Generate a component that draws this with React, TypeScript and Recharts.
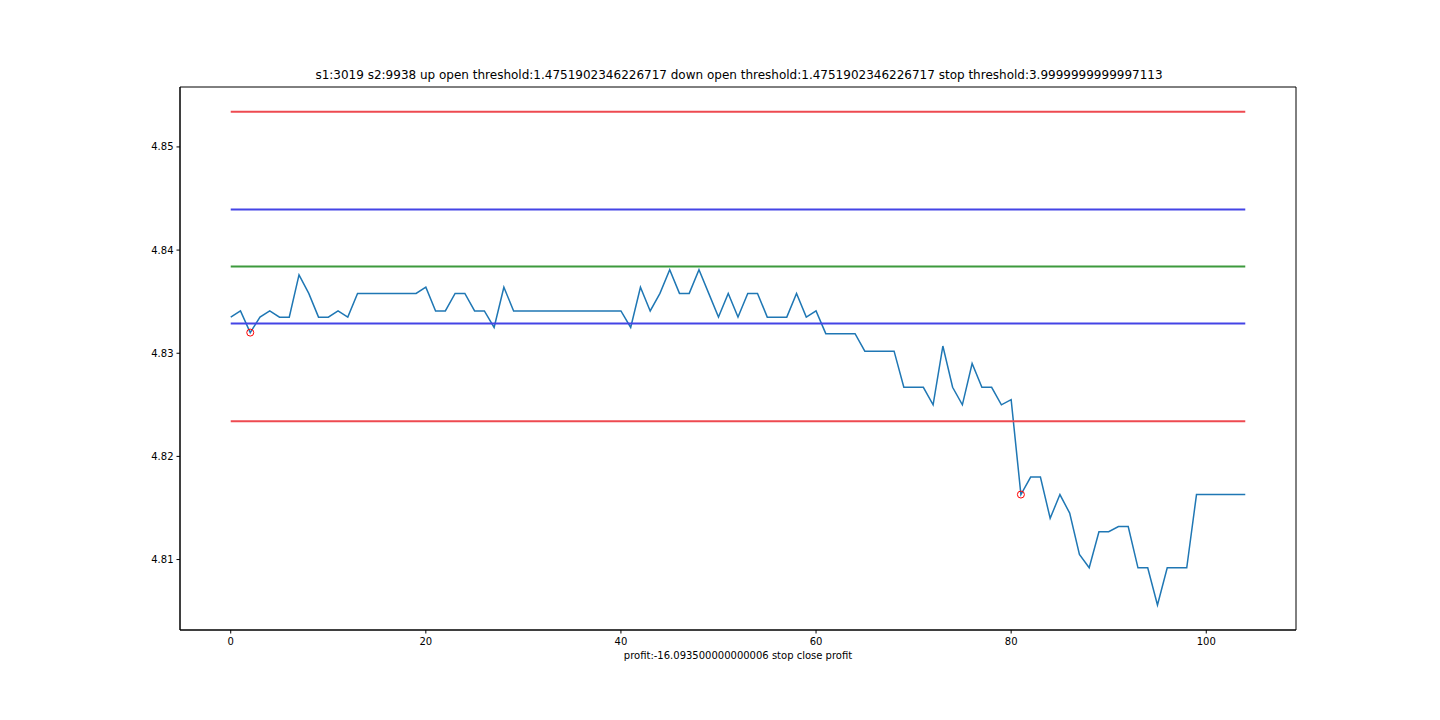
import { ComposedChart, Line, XAxis, YAxis, ReferenceArea } from "recharts";

const price = [
  4.8335, 4.8341, 4.832, 4.8335, 4.8341, 4.8335, 4.8335, 4.8376, 4.8358, 4.8335,
  4.8335, 4.8341, 4.8335, 4.8358, 4.8358, 4.8358, 4.8358, 4.8358, 4.8358, 4.8358,
  4.8364, 4.8341, 4.8341, 4.8358, 4.8358, 4.8341, 4.8341, 4.8325, 4.8364, 4.8341,
  4.8341, 4.8341, 4.8341, 4.8341, 4.8341, 4.8341, 4.8341, 4.8341, 4.8341, 4.8341,
  4.8341, 4.8325, 4.8364, 4.8341, 4.8358, 4.8381, 4.8358, 4.8358, 4.8381, 4.8358,
  4.8335, 4.8358, 4.8335, 4.8358, 4.8358, 4.8335, 4.8335, 4.8335, 4.8358, 4.8335,
  4.8341, 4.8319, 4.8319, 4.8319, 4.8319, 4.8302, 4.8302, 4.8302, 4.8302, 4.8267,
  4.8267, 4.8267, 4.825, 4.8307, 4.8267, 4.825, 4.829, 4.8267, 4.8267, 4.825,
  4.8255, 4.8163, 4.818, 4.818, 4.814, 4.8163, 4.8145, 4.8105, 4.8092, 4.8127,
  4.8127, 4.8132, 4.8132, 4.8092, 4.8092, 4.8056, 4.8092, 4.8092, 4.8092, 4.8163,
  4.8163, 4.8163, 4.8163, 4.8163, 4.8163,
];

// indices where a trade was opened / stopped
const signals = [2, 81];

// threshold levels: up stop, up open, mean, down open, down stop
const upStop = 4.85341;
const upOpen = 4.84393;
const mean = 4.83841;
const downOpen = 4.83289;
const downStop = 4.82341;

const xTicks = [0, 20, 40, 60, 80, 100];
const yTicks = [4.81, 4.82, 4.83, 4.84, 4.85];

const title =
  "s1:3019 s2:9938 up open threshold:1.4751902346226717 down open threshold:1.4751902346226717 stop threshold:3.9999999999997113";
const xLabel = "profit:-16.093500000000006 stop close profit";

const rows = price.map((p, i) => ({
  i,
  price: p,
  signal: signals.includes(i) ? p : null,
  upStop,
  upOpen,
  mean,
  downOpen,
  downStop,
}));

const xDomain = [-5.2, 109.2];
const yDomain = [4.80317, 4.85581];

const font = "'DejaVu Sans', sans-serif";
const tickStyle = { fill: "#000", fontSize: 10, fontFamily: font };

const SignalDot = (props: any) => {
  const { cx, cy, payload } = props;
  if (payload.signal == null || cx == null || cy == null) return null;
  return <circle key={`s-${payload.i}`} cx={cx} cy={cy} r={3.5} fill="none" stroke="#ff0000" strokeWidth={1} />;
};

export default function App() {
  return (
    <div style={{ position: "absolute", left: 0, top: 0, width: 1440, height: 720, background: "#fff" }}>
      <div
        style={{
          position: "absolute",
          left: 181,
          width: 1116,
          top: 68,
          textAlign: "center",
          fontFamily: font,
          fontSize: 12,
          color: "#000",
          whiteSpace: "nowrap",
        }}
      >
        {title}
      </div>
      <ComposedChart
        width={1440}
        height={720}
        data={rows}
        margin={{ top: 87, right: 144, left: 120, bottom: 60 }}
      >
        <XAxis
          dataKey="i"
          type="number"
          domain={xDomain}
          ticks={xTicks}
          allowDataOverflow
          height={30}
          tickSize={3.5}
          tickMargin={4}
          tick={tickStyle}
          stroke="#000"
        />
        <YAxis
          type="number"
          domain={yDomain}
          ticks={yTicks}
          allowDataOverflow
          width={60}
          tickSize={3.5}
          tickMargin={3}
          tick={tickStyle}
          tickFormatter={(v: number) => v.toFixed(2)}
          stroke="#000"
        />
        <ReferenceArea
          x1={xDomain[0]}
          x2={xDomain[1]}
          y1={yDomain[0]}
          y2={yDomain[1]}
          fill="none"
          stroke="#000"
          strokeWidth={1}
        />
        <Line dataKey="price" stroke="#1f77b4" strokeWidth={1.5} dot={false} isAnimationActive={false} />
        <Line dataKey="upStop" stroke="#ee4a50" strokeWidth={2} dot={false} isAnimationActive={false} />
        <Line dataKey="upOpen" stroke="#4444e6" strokeWidth={2} dot={false} isAnimationActive={false} />
        <Line dataKey="mean" stroke="#3d9a3d" strokeWidth={2} dot={false} isAnimationActive={false} />
        <Line dataKey="downOpen" stroke="#4444e6" strokeWidth={2} dot={false} isAnimationActive={false} />
        <Line dataKey="downStop" stroke="#ee4a50" strokeWidth={2} dot={false} isAnimationActive={false} />
        <Line
          dataKey="signal"
          stroke="none"
          dot={SignalDot}
          activeDot={false}
          connectNulls={false}
          isAnimationActive={false}
        />
      </ComposedChart>
      <div
        style={{
          position: "absolute",
          left: 180,
          width: 1116,
          top: 650,
          textAlign: "center",
          fontFamily: font,
          fontSize: 10,
          color: "#000",
          whiteSpace: "nowrap",
        }}
      >
        {xLabel}
      </div>
    </div>
  );
}
